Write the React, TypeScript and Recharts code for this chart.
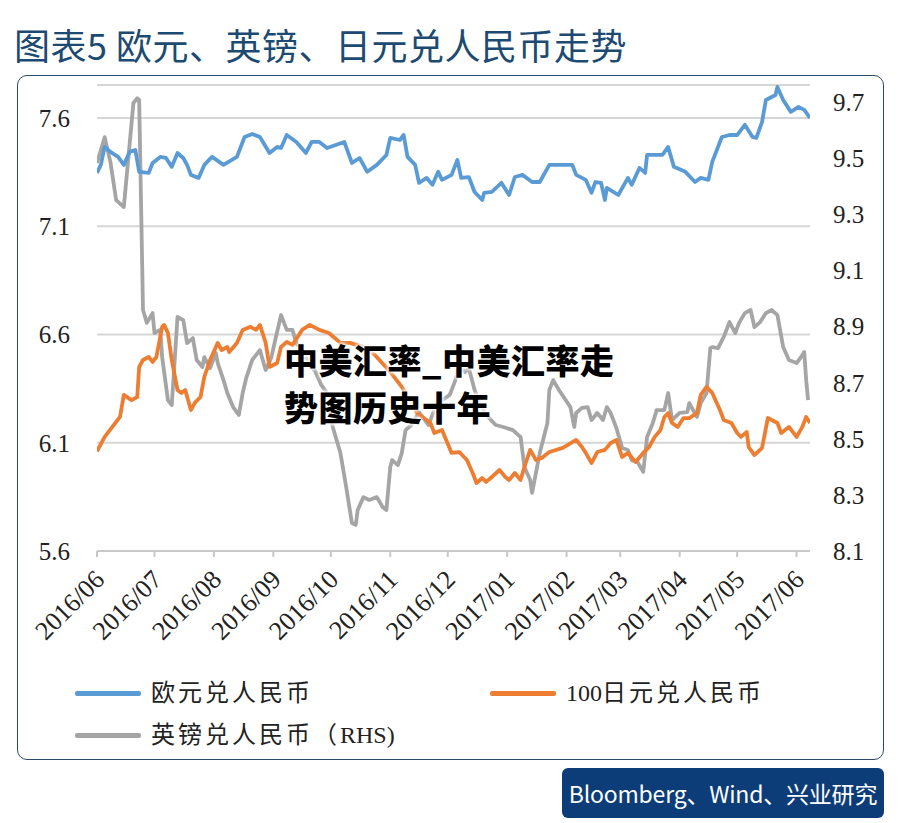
import React from "react";
import { LineChart, Line, XAxis, YAxis, CartesianGrid } from "recharts";

const START = "2016-06-01";

// month ticks on the x axis
const monthLabels = [
  "2016/06", "2016/07", "2016/08", "2016/09", "2016/10", "2016/11", "2016/12",
  "2017/01", "2017/02", "2017/03", "2017/04", "2017/05", "2017/06",
];
const leftTicks = [5.6, 6.1, 6.6, 7.1, 7.6];
const rightTicks = [8.1, 8.3, 8.5, 8.7, 8.9, 9.1, 9.3, 9.5, 9.7];

// 欧元兑人民币
const eurDates = [
  "2016-06-01", "2016-06-03", "2016-06-05", "2016-06-08", "2016-06-12", "2016-06-15", "2016-06-18", "2016-06-21",
  "2016-06-23", "2016-06-28", "2016-06-30", "2016-07-04", "2016-07-07", "2016-07-10", "2016-07-13", "2016-07-16",
  "2016-07-18", "2016-07-20", "2016-07-24", "2016-07-27", "2016-07-31", "2016-08-06", "2016-08-13", "2016-08-17",
  "2016-08-21", "2016-08-25", "2016-08-30", "2016-09-03", "2016-09-05", "2016-09-08", "2016-09-13", "2016-09-18",
  "2016-09-21", "2016-09-25", "2016-09-29", "2016-10-08", "2016-10-12", "2016-10-16", "2016-10-20", "2016-10-25",
  "2016-10-30", "2016-11-01", "2016-11-06", "2016-11-08", "2016-11-10", "2016-11-14", "2016-11-16", "2016-11-20",
  "2016-11-23", "2016-11-26", "2016-11-28", "2016-12-03", "2016-12-06", "2016-12-08", "2016-12-12", "2016-12-15",
  "2016-12-19", "2016-12-20", "2016-12-24", "2016-12-29", "2017-01-02", "2017-01-05", "2017-01-09", "2017-01-14",
  "2017-01-18", "2017-01-23", "2017-02-04", "2017-02-06", "2017-02-11", "2017-02-14", "2017-02-16", "2017-02-19",
  "2017-02-21", "2017-02-22", "2017-02-28", "2017-03-05", "2017-03-07", "2017-03-11", "2017-03-14", "2017-03-15",
  "2017-03-23", "2017-03-26", "2017-03-29", "2017-04-04", "2017-04-09", "2017-04-12", "2017-04-16", "2017-04-18",
  "2017-04-23", "2017-04-27", "2017-05-01", "2017-05-05", "2017-05-09", "2017-05-11", "2017-05-14", "2017-05-16",
  "2017-05-21", "2017-05-22", "2017-05-25", "2017-05-29", "2017-06-02", "2017-06-05", "2017-06-08",
];
const eurRate = [
  7.346, 7.383, 7.466, 7.443, 7.42, 7.383, 7.443, 7.452,
  7.351, 7.346, 7.392, 7.42, 7.415, 7.374, 7.438, 7.415,
  7.383, 7.337, 7.323, 7.383, 7.42, 7.383, 7.42, 7.512,
  7.526, 7.512, 7.438, 7.466, 7.461, 7.521, 7.489, 7.438,
  7.489, 7.489, 7.461, 7.489, 7.392, 7.415, 7.351, 7.383,
  7.429, 7.508, 7.498, 7.521, 7.42, 7.383, 7.3, 7.323,
  7.291, 7.351, 7.314, 7.337, 7.406, 7.323, 7.327, 7.258,
  7.221, 7.254, 7.258, 7.3, 7.244, 7.327, 7.337, 7.304,
  7.304, 7.383, 7.383, 7.337, 7.314, 7.254, 7.304, 7.3,
  7.221, 7.277, 7.244, 7.323, 7.291, 7.369, 7.346, 7.429,
  7.429, 7.466, 7.374, 7.351, 7.304, 7.323, 7.314, 7.397,
  7.512, 7.521, 7.521, 7.568, 7.512, 7.508, 7.582, 7.683,
  7.706, 7.743, 7.683, 7.628, 7.651, 7.637, 7.6,
];

// 100日元兑人民币
const jpyDates = [
  "2016-06-01", "2016-06-05", "2016-06-09", "2016-06-13", "2016-06-15", "2016-06-19", "2016-06-22", "2016-06-23",
  "2016-06-25", "2016-06-28", "2016-06-30", "2016-07-02", "2016-07-05", "2016-07-06", "2016-07-08", "2016-07-10",
  "2016-07-13", "2016-07-15", "2016-07-17", "2016-07-20", "2016-07-22", "2016-07-25", "2016-07-27", "2016-07-30",
  "2016-08-03", "2016-08-05", "2016-08-08", "2016-08-09", "2016-08-13", "2016-08-16", "2016-08-20", "2016-08-23",
  "2016-08-25", "2016-08-28", "2016-08-30", "2016-09-03", "2016-09-05", "2016-09-08", "2016-09-11", "2016-09-16",
  "2016-09-20", "2016-09-25", "2016-09-30", "2016-10-06", "2016-10-11", "2016-10-19", "2016-10-24", "2016-11-01",
  "2016-11-07", "2016-11-11", "2016-11-15", "2016-11-22", "2016-11-24", "2016-11-28", "2016-12-03", "2016-12-07",
  "2016-12-11", "2016-12-14", "2016-12-16", "2016-12-19", "2016-12-21", "2016-12-24", "2016-12-28", "2016-12-31",
  "2017-01-02", "2017-01-05", "2017-01-08", "2017-01-10", "2017-01-13", "2017-01-16", "2017-01-19", "2017-01-23",
  "2017-01-30", "2017-02-06", "2017-02-09", "2017-02-11", "2017-02-14", "2017-02-17", "2017-02-21", "2017-02-24",
  "2017-02-27", "2017-03-02", "2017-03-05", "2017-03-09", "2017-03-13", "2017-03-16", "2017-03-19", "2017-03-22",
  "2017-03-24", "2017-03-26", "2017-03-28", "2017-03-31", "2017-04-03", "2017-04-06", "2017-04-10", "2017-04-12",
  "2017-04-15", "2017-04-18", "2017-04-22", "2017-04-24", "2017-04-28", "2017-05-01", "2017-05-03", "2017-05-06",
  "2017-05-07", "2017-05-10", "2017-05-14", "2017-05-17", "2017-05-22", "2017-05-24", "2017-05-28", "2017-06-01",
  "2017-06-04", "2017-06-06", "2017-06-08",
];
const jpyRate = [
  6.06, 6.127, 6.173, 6.219, 6.321, 6.297, 6.311, 6.45,
  6.482, 6.496, 6.473, 6.496, 6.635, 6.644, 6.607, 6.482,
  6.344, 6.33, 6.344, 6.251, 6.284, 6.311, 6.404, 6.482,
  6.561, 6.528, 6.542, 6.519, 6.561, 6.621, 6.635, 6.621,
  6.644, 6.561, 6.45, 6.468, 6.542, 6.565, 6.552, 6.621,
  6.644, 6.621, 6.607, 6.561, 6.561, 6.538, 6.505, 6.427,
  6.358, 6.297, 6.237, 6.191, 6.145, 6.159, 6.053, 6.057,
  6.02, 5.96, 5.914, 5.937, 5.919, 5.942, 5.974, 5.942,
  5.928, 5.96, 5.928, 5.988, 6.067, 6.02, 6.03, 6.057,
  6.076, 6.113, 6.08, 6.053, 6.006, 6.057, 6.067, 6.099,
  6.113, 6.034, 6.053, 6.011, 6.053, 6.08, 6.127, 6.159,
  6.219, 6.237, 6.191, 6.173, 6.214, 6.214, 6.237, 6.321,
  6.358, 6.33, 6.251, 6.205, 6.191, 6.145, 6.127, 6.15,
  6.08, 6.043, 6.076, 6.214, 6.191, 6.145, 6.173, 6.127,
  6.173, 6.219, 6.191,
];

// 英镑兑人民币 (RHS)
const gbpDates = [
  "2016-06-01", "2016-06-05", "2016-06-08", "2016-06-11", "2016-06-15", "2016-06-20", "2016-06-22", "2016-06-23",
  "2016-06-25", "2016-06-27", "2016-06-30", "2016-07-01", "2016-07-04", "2016-07-05", "2016-07-08", "2016-07-10",
  "2016-07-13", "2016-07-16", "2016-07-18", "2016-07-21", "2016-07-23", "2016-07-26", "2016-07-27", "2016-07-30",
  "2016-08-02", "2016-08-03", "2016-08-06", "2016-08-08", "2016-08-11", "2016-08-14", "2016-08-16", "2016-08-18",
  "2016-08-21", "2016-08-25", "2016-08-28", "2016-08-31", "2016-09-02", "2016-09-05", "2016-09-08", "2016-09-11",
  "2016-09-13", "2016-09-17", "2016-09-23", "2016-09-26", "2016-09-29", "2016-10-02", "2016-10-06", "2016-10-09",
  "2016-10-12", "2016-10-14", "2016-10-15", "2016-10-18", "2016-10-21", "2016-10-25", "2016-10-28", "2016-10-30",
  "2016-11-01", "2016-11-02", "2016-11-05", "2016-11-07", "2016-11-09", "2016-11-12", "2016-11-16", "2016-11-21",
  "2016-11-24", "2016-11-28", "2016-12-02", "2016-12-05", "2016-12-07", "2016-12-10", "2016-12-12", "2016-12-15",
  "2016-12-18", "2016-12-21", "2016-12-26", "2016-12-30", "2017-01-04", "2017-01-08", "2017-01-10", "2017-01-13",
  "2017-01-14", "2017-01-18", "2017-01-22", "2017-01-23", "2017-01-25", "2017-01-28", "2017-02-03", "2017-02-05",
  "2017-02-06", "2017-02-09", "2017-02-12", "2017-02-14", "2017-02-17", "2017-02-20", "2017-02-22", "2017-02-24",
  "2017-02-27", "2017-03-02", "2017-03-05", "2017-03-07", "2017-03-10", "2017-03-13", "2017-03-15", "2017-03-18",
  "2017-03-20", "2017-03-24", "2017-03-26", "2017-03-28", "2017-04-01", "2017-04-05", "2017-04-06", "2017-04-10",
  "2017-04-12", "2017-04-15", "2017-04-17", "2017-04-18", "2017-04-21", "2017-04-24", "2017-04-27", "2017-04-30",
  "2017-05-02", "2017-05-05", "2017-05-08", "2017-05-10", "2017-05-13", "2017-05-16", "2017-05-19", "2017-05-22",
  "2017-05-25", "2017-05-28", "2017-06-01", "2017-06-03", "2017-06-05", "2017-06-06", "2017-06-07",
];
const gbpRate = [
  9.483, 9.575, 9.486, 9.351, 9.326, 9.697, 9.714, 9.707,
  8.959, 8.913, 8.948, 8.877, 8.888, 8.791, 8.638, 8.62,
  8.934, 8.923, 8.841, 8.859, 8.781, 8.756, 8.791, 8.752,
  8.806, 8.77, 8.709, 8.663, 8.613, 8.585, 8.663, 8.72,
  8.781, 8.816, 8.745, 8.791, 8.852, 8.941, 8.888, 8.888,
  8.841, 8.798, 8.738, 8.692, 8.663, 8.542, 8.449, 8.328,
  8.2, 8.193, 8.246, 8.292, 8.282, 8.292, 8.257, 8.246,
  8.399, 8.424, 8.406, 8.449, 8.531, 8.549, 8.595, 8.549,
  8.602, 8.638, 8.656, 8.709, 8.763, 8.738, 8.752, 8.674,
  8.62, 8.585, 8.549, 8.542, 8.531, 8.506, 8.399, 8.353,
  8.307, 8.449, 8.556, 8.674, 8.709, 8.674, 8.613, 8.542,
  8.592, 8.61, 8.613, 8.567, 8.592, 8.567, 8.613, 8.592,
  8.538, 8.467, 8.46, 8.424, 8.417, 8.382, 8.506, 8.556,
  8.602, 8.602, 8.663, 8.567, 8.592, 8.595, 8.627, 8.578,
  8.627, 8.663, 8.823, 8.827, 8.823, 8.863, 8.916, 8.877,
  8.913, 8.948, 8.959, 8.898, 8.916, 8.948, 8.959, 8.941,
  8.827, 8.781, 8.77, 8.788, 8.809, 8.709, 8.638,
];

const DAY = 86400000;
const toDay = (s: string) => Math.round((Date.parse(s) - Date.parse(START)) / DAY);
const monthTicks = monthLabels.map((m) => toDay(m.replace("/", "-") + "-01"));
const labelOf = (d: number) => monthLabels[monthTicks.indexOf(d)] ?? "";

const build = (dates: string[], vals: number[]) =>
  dates.map((d, i) => ({ day: toDay(d), v: vals[i] }));

const eurData = build(eurDates, eurRate);
const jpyData = build(jpyDates, jpyRate);
const gbpData = build(gbpDates, gbpRate);

const BLUE = "#5b9bd5";
const ORANGE = "#ed7d31";
const GREY = "#a5a5a5";
const SERIF = "'Liberation Serif', 'Times New Roman', serif";
const CJK = "'Noto Sans CJK SC', sans-serif";

const DateTick = (props: any) => {
  const { x, y, payload } = props;
  return (
    <g transform={`translate(${x + 9},${y + 22}) rotate(-45)`}>
      <text x={0} y={0} textAnchor="end" fontFamily={SERIF} fontSize={26} fill="#222">
        {labelOf(payload.value)}
      </text>
    </g>
  );
};

// latin runs stay tight, CJK characters get a little spacing
const legendText = (label: string) =>
  label.split(/([A-Za-z0-9()]+)/).filter(Boolean).map((part, i) =>
    /^[A-Za-z0-9()]+$/.test(part) ? (
      <span key={i} style={{ letterSpacing: 0 }}>{part}</span>
    ) : (
      <span key={i} style={{ letterSpacing: 3 }}>{part}</span>
    )
  );

const legendRow = (color: string, label: string, left: number, top: number) => (
  <div style={{ position: "absolute", left, top, display: "flex", alignItems: "center" }}>
    <div style={{ width: 66, height: 5, background: color, borderRadius: 2 }} />
    <span
      style={{
        marginLeft: 10,
        fontFamily: `'Liberation Serif', ${CJK}`,
        fontSize: 24,
        color: "#222",
        lineHeight: "30px",
        whiteSpace: "nowrap",
      }}
    >
      {legendText(label)}
    </span>
  </div>
);

export default function App() {
  return (
    <div style={{ position: "absolute", left: 0, top: 0, width: 900, height: 823, background: "#fff", overflow: "hidden" }}>
      <div
        style={{
          position: "absolute",
          left: 14,
          top: 19,
          fontFamily: CJK,
          fontSize: 36,
          letterSpacing: 0.5,
          color: "#1d4a72",
          whiteSpace: "nowrap",
          lineHeight: "50px",
        }}
      >
        图表5 欧元、英镑、日元兑人民币走势
      </div>

      <div
        style={{
          position: "absolute",
          left: 17,
          top: 75,
          width: 865,
          height: 683,
          border: "1.5px solid #2b4a69",
          borderRadius: 10,
        }}
      />

      <div style={{ position: "absolute", left: 0, top: 0 }}>
        <LineChart width={900} height={700} margin={{ top: 85, right: 30, bottom: 49, left: 37 }}>
          <CartesianGrid yAxisId="left" vertical={false} stroke="#d6d6d6" strokeWidth={2} />
          <XAxis
            dataKey="day"
            type="number"
            domain={[0, 372]}
            ticks={monthTicks}
            allowDataOverflow
            height={100}
            interval={0}
            stroke="#c8c8c8"
            strokeWidth={2}
            tickSize={6}
            tick={<DateTick />}
          />
          <YAxis
            yAxisId="left"
            orientation="left"
            type="number"
            domain={[5.6, 7.752]}
            allowDataOverflow
            ticks={leftTicks}
            width={60}
            axisLine={false}
            tickLine={false}
            tickSize={0}
            tickMargin={27}
            tickFormatter={(v: number) => v.toFixed(1)}
            tick={{ fontFamily: SERIF, fontSize: 25, fill: "#222" }}
          />
          <YAxis
            yAxisId="right"
            orientation="right"
            type="number"
            domain={[8.1, 9.761]}
            allowDataOverflow
            ticks={rightTicks}
            width={60}
            axisLine={false}
            tickLine={false}
            tickSize={0}
            tickMargin={23}
            tickFormatter={(v: number) => v.toFixed(1)}
            tick={{ fontFamily: SERIF, fontSize: 25, fill: "#222" }}
          />
          <Line yAxisId="right" data={gbpData} dataKey="v" stroke={GREY} strokeWidth={3.8} dot={false} isAnimationActive={false} strokeLinejoin="round" />
          <Line yAxisId="left" data={jpyData} dataKey="v" stroke={ORANGE} strokeWidth={3.8} dot={false} isAnimationActive={false} strokeLinejoin="round" />
          <Line yAxisId="left" data={eurData} dataKey="v" stroke={BLUE} strokeWidth={3.8} dot={false} isAnimationActive={false} strokeLinejoin="round" />
        </LineChart>
      </div>

      {legendRow(BLUE, "欧元兑人民币", 75, 678)}
      {legendRow(ORANGE, "100日元兑人民币", 490, 678)}
      {legendRow(GREY, "英镑兑人民币（RHS)", 75, 720)}

      <div
        style={{
          position: "absolute",
          left: 284,
          top: 336,
          fontFamily: CJK,
          fontWeight: 900,
          fontSize: 34,
          letterSpacing: 0.5,
          lineHeight: "47px",
          color: "#000",
          whiteSpace: "nowrap",
          textShadow: "0 0 3px #fff, 0 0 3px #fff, 0 0 4px #fff, 0 0 5px #fff",
        }}
      >
        <div>中美汇率_中美汇率走</div>
        <div>势图历史十年</div>
      </div>

      <div
        style={{
          position: "absolute",
          left: 562,
          top: 768,
          width: 322,
          height: 50,
          background: "#0c3d78",
          borderRadius: 6,
          color: "#fff",
          fontFamily: CJK,
          fontSize: 23,
          letterSpacing: -0.2,
          lineHeight: "50px",
          textAlign: "center",
          whiteSpace: "nowrap",
        }}
      >
        Bloomberg、Wind、兴业研究
      </div>
    </div>
  );
}
